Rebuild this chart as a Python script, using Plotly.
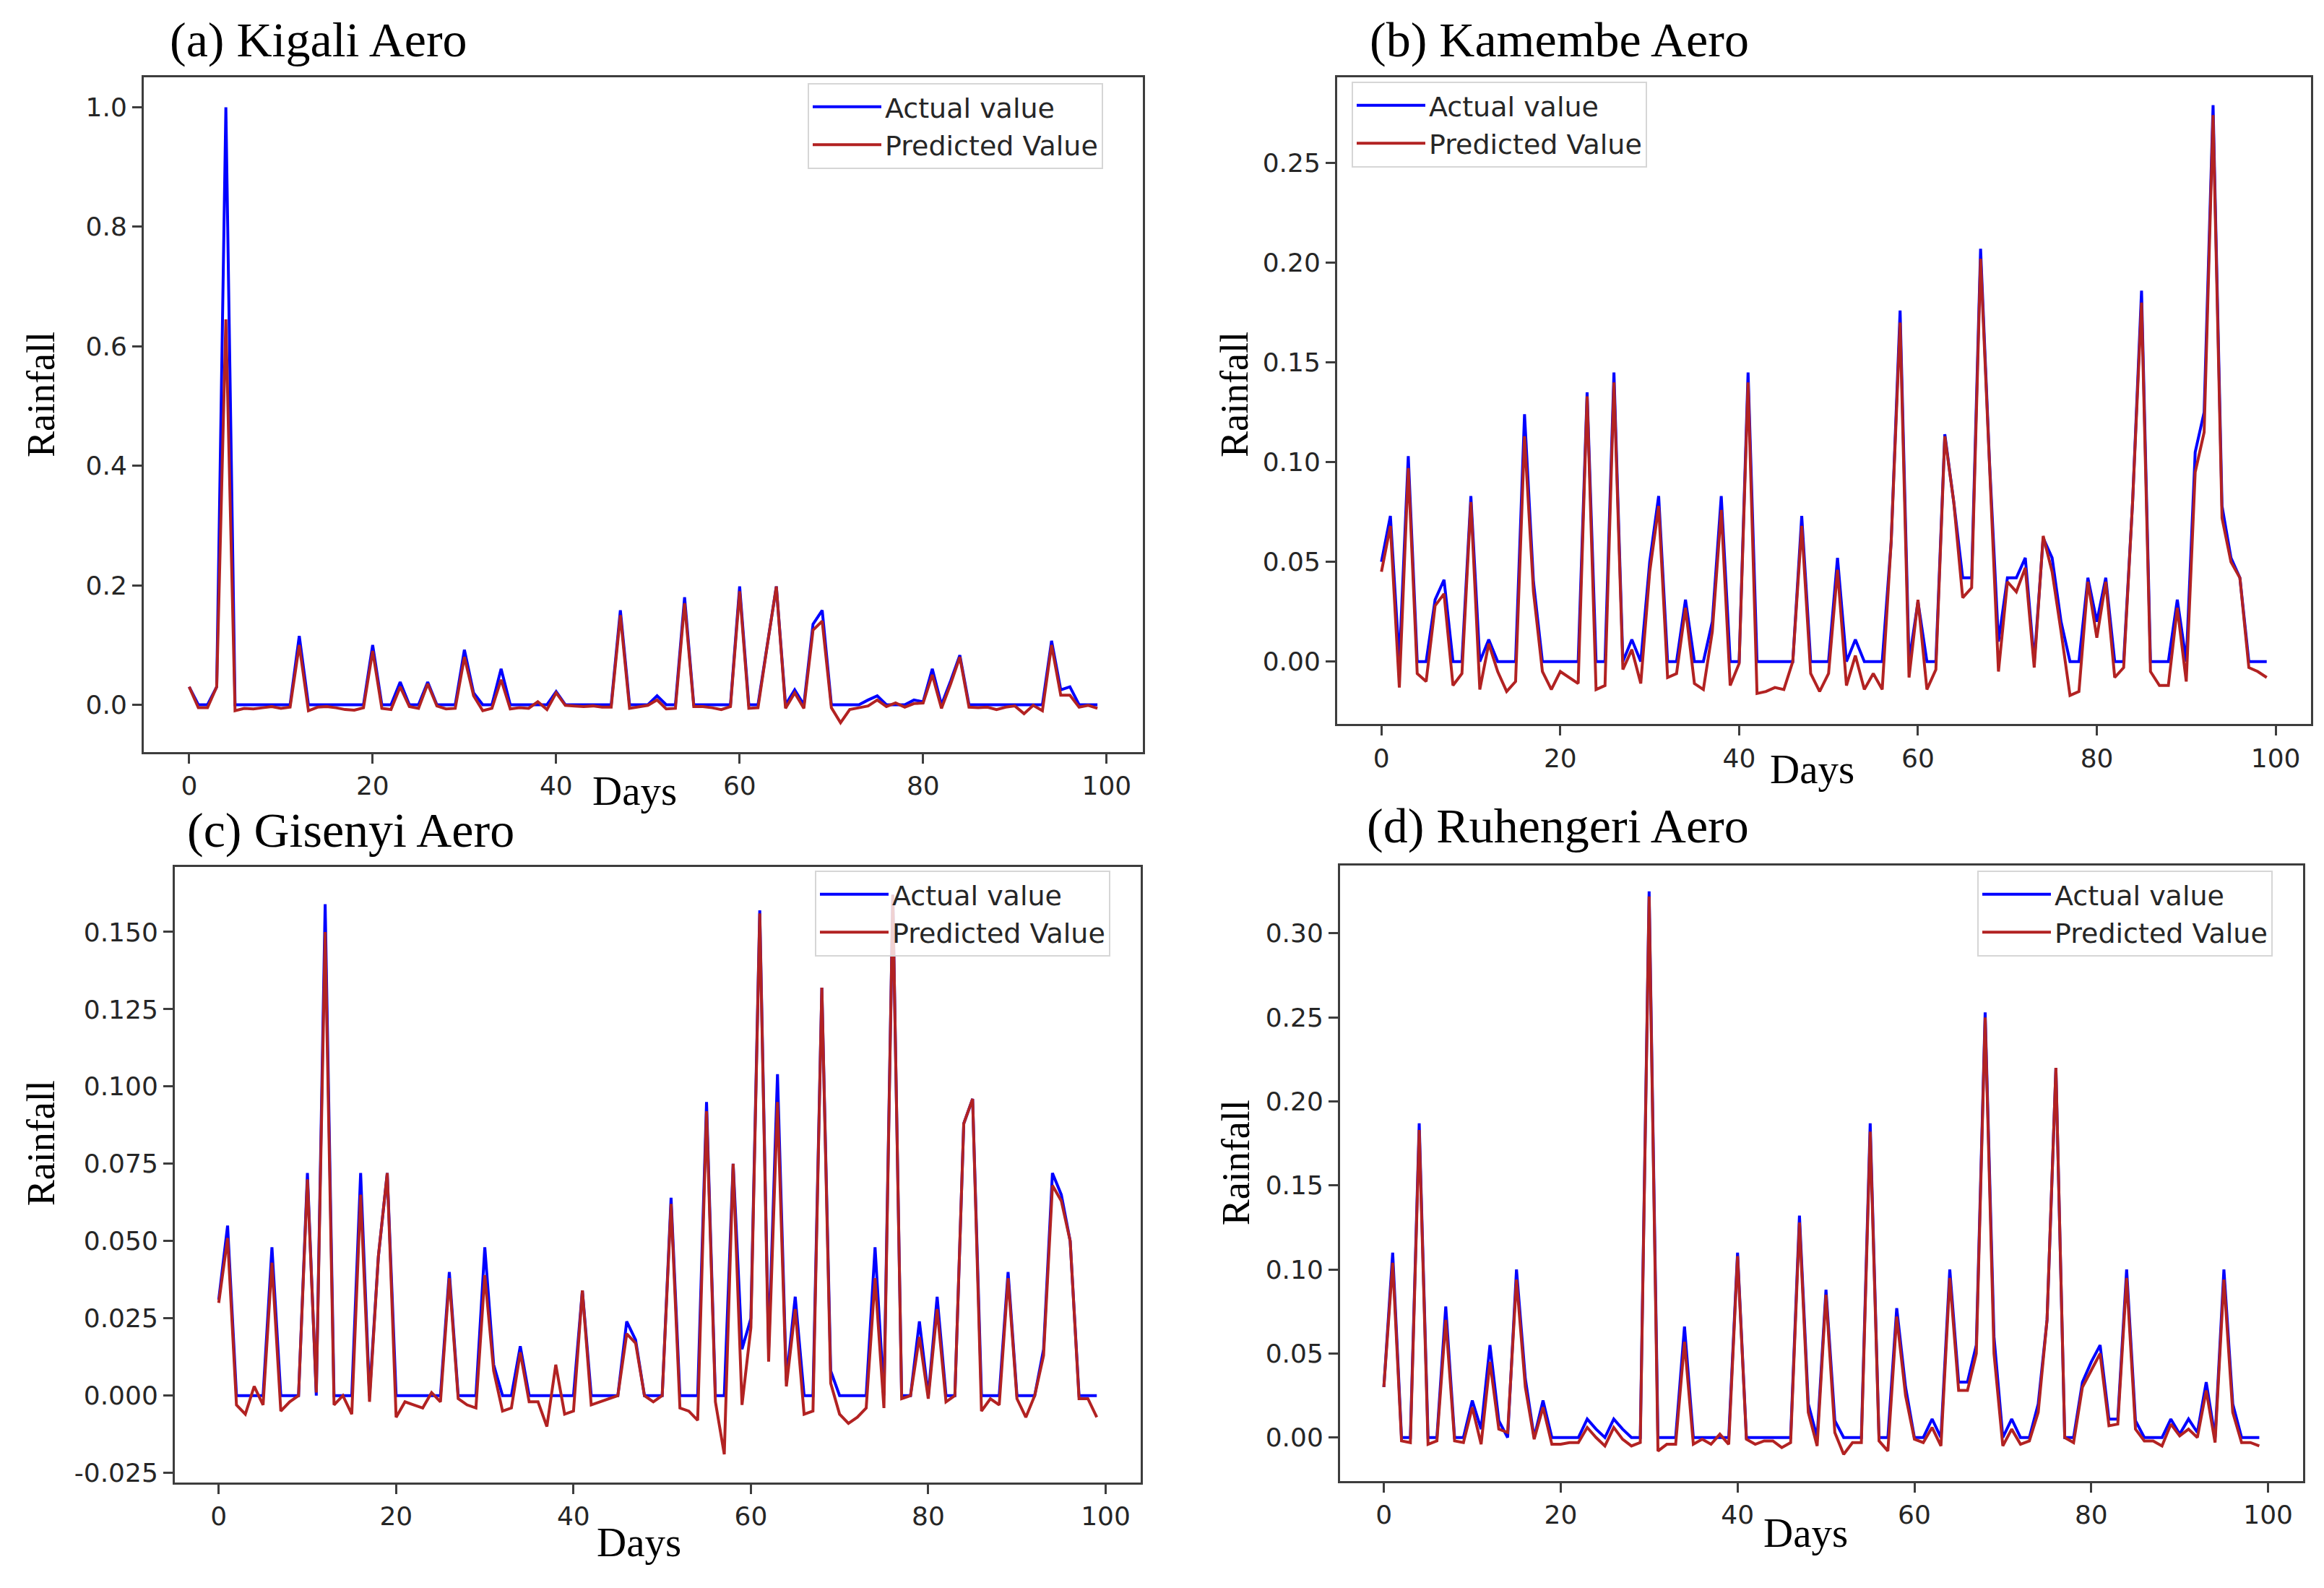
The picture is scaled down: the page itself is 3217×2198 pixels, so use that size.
import plotly.graph_objects as go

W, H = 3217, 2198

days = list(range(100))
x_ticks = [0, 20, 40, 60, 80, 100]

# (a) Kigali Aero
kigali_actual = [0.03, 0, 0, 0.03, 1.0, 0, 0, 0, 0, 0,
                 0, 0, 0.115, 0, 0, 0, 0, 0, 0, 0,
                 0.10, 0, 0, 0.038, 0, 0, 0.038, 0, 0, 0,
                 0.092, 0.02, 0, 0, 0.06, 0, 0, 0, 0, 0,
                 0.022, 0, 0, 0, 0, 0, 0, 0.158, 0, 0,
                 0, 0.015, 0, 0, 0.18, 0, 0, 0, 0, 0,
                 0.198, 0, 0, 0.1, 0.198, 0, 0.025, 0, 0.135, 0.158,
                 0, 0, 0, 0, 0.008, 0.015, 0, 0, 0, 0.008,
                 0.005, 0.06, 0, 0.04, 0.083, 0, 0, 0, 0, 0,
                 0, 0, 0, 0, 0.107, 0.025, 0.03, 0, 0, 0]
kigali_pred = [0.03, -0.005, -0.005, 0.03, 0.645, -0.01, -0.006, -0.007, -0.005, -0.003,
               -0.006, -0.004, 0.1, -0.01, -0.004, -0.003, -0.005, -0.008, -0.009, -0.005,
               0.09, -0.006, -0.008, 0.03, -0.003, -0.006, 0.035, -0.002, -0.007, -0.006,
               0.08, 0.015, -0.01, -0.006, 0.042, -0.007, -0.005, -0.006, 0.005, -0.008,
               0.02, -0.001, -0.002, -0.003, -0.002, -0.004, -0.004, 0.15, -0.006, -0.004,
               -0.001, 0.008, -0.007, -0.006, 0.17, -0.003, -0.003, -0.005, -0.008, -0.003,
               0.19, -0.006, -0.005, 0.098, 0.198, -0.006, 0.02, -0.006, 0.125, 0.14,
               -0.005, -0.03, -0.008, -0.005, -0.002, 0.008, -0.003, 0.003, -0.004, 0.002,
               0.003, 0.05, -0.006, 0.035, 0.08, -0.004, -0.005, -0.004, -0.008, -0.004,
               -0.002, -0.015, -0.001, -0.01, 0.1, 0.016, 0.016, -0.004, -0.001, -0.006]

# (b) Kamembe Aero
kamembe_actual = [0.05, 0.073, 0, 0.103, 0, 0, 0.031, 0.041, 0, 0,
                  0.083, 0, 0.011, 0, 0, 0, 0.124, 0.04, 0, 0,
                  0, 0, 0, 0.135, 0, 0, 0.145, 0, 0.011, 0,
                  0.05, 0.083, 0, 0, 0.031, 0, 0, 0.02, 0.083, 0,
                  0, 0.145, 0, 0, 0, 0, 0, 0.073, 0, 0,
                  0, 0.052, 0, 0.011, 0, 0, 0, 0.06, 0.176, 0,
                  0.03, 0, 0, 0.114, 0.08, 0.042, 0.042, 0.207, 0.1, 0.01,
                  0.042, 0.042, 0.052, 0, 0.062, 0.052, 0.02, 0, 0, 0.042,
                  0.02, 0.042, 0, 0, 0.08, 0.186, 0, 0, 0, 0.031,
                  0, 0.105, 0.125, 0.279, 0.078, 0.052, 0.042, 0, 0, 0]
kamembe_pred = [0.045, 0.068, -0.013, 0.097, -0.006, -0.01, 0.028, 0.034, -0.012, -0.006,
                0.08, -0.014, 0.009, -0.005, -0.015, -0.01, 0.113, 0.035, -0.005, -0.014,
                -0.005, -0.008, -0.011, 0.133, -0.014, -0.012, 0.14, -0.004, 0.006, -0.011,
                0.045, 0.078, -0.008, -0.006, 0.027, -0.011, -0.014, 0.015, 0.076, -0.012,
                -0.001, 0.14, -0.016, -0.015, -0.013, -0.014, 0.0, 0.068, -0.006, -0.015,
                -0.006, 0.046, -0.012, 0.003, -0.014, -0.006, -0.014, 0.06, 0.17, -0.008,
                0.031, -0.014, -0.004, 0.113, 0.08, 0.032, 0.037, 0.202, 0.1, -0.005,
                0.04, 0.035, 0.047, -0.003, 0.063, 0.045, 0.015, -0.017, -0.015, 0.04,
                0.012, 0.04, -0.008, -0.003, 0.08, 0.18, -0.005, -0.012, -0.012, 0.027,
                -0.01, 0.095, 0.115, 0.274, 0.072, 0.05, 0.042, -0.003, -0.005, -0.008]

# (c) Gisenyi Aero
gisenyi_actual = [0.031, 0.055, 0, 0, 0, 0, 0.048, 0, 0, 0,
                  0.072, 0, 0.159, 0, 0, 0, 0.072, 0, 0.045, 0.072,
                  0, 0, 0, 0, 0, 0, 0.04, 0, 0, 0,
                  0.048, 0.01, 0, 0, 0.016, 0, 0, 0, 0, 0,
                  0, 0.034, 0, 0, 0, 0, 0.024, 0.018, 0, 0,
                  0, 0.064, 0, 0, 0, 0.095, 0, 0, 0.075, 0.015,
                  0.025, 0.157, 0.015, 0.104, 0.005, 0.032, 0, 0, 0.132, 0.008,
                  0, 0, 0, 0, 0.048, 0, 0.162, 0, 0, 0.024,
                  0, 0.032, 0, 0, 0.088, 0.096, 0, 0, 0, 0.04,
                  0, 0, 0, 0.015, 0.072, 0.065, 0.05, 0, 0, 0]
gisenyi_pred = [0.03, 0.051, -0.003, -0.006, 0.003, -0.003, 0.043, -0.005, -0.002, 0.0,
                0.07, 0.001, 0.15, -0.003, 0.0, -0.006, 0.065, -0.002, 0.045, 0.072,
                -0.007, -0.002, -0.003, -0.004, 0.001, -0.002, 0.038, -0.001, -0.003, -0.004,
                0.039, 0.008, -0.005, -0.004, 0.014, -0.002, -0.002, -0.01, 0.01, -0.006,
                -0.005, 0.034, -0.003, -0.002, -0.001, 0.0, 0.02, 0.017, 0.0, -0.002,
                0.0, 0.062, -0.004, -0.005, -0.008, 0.092, -0.002, -0.019, 0.075, -0.003,
                0.022, 0.156, 0.011, 0.095, 0.003, 0.028, -0.006, -0.005, 0.132, 0.004,
                -0.006, -0.009, -0.007, -0.004, 0.038, -0.004, 0.162, -0.001, 0.0, 0.019,
                -0.001, 0.028, -0.002, 0.0, 0.088, 0.096, -0.005, -0.001, -0.003, 0.038,
                -0.001, -0.007, 0.0, 0.013, 0.068, 0.063, 0.05, -0.001, -0.001, -0.007]

# (d) Ruhengeri Aero
ruhengeri_actual = [0.03, 0.11, 0, 0, 0.187, 0, 0, 0.078, 0, 0,
                    0.022, 0.005, 0.055, 0.01, 0, 0.1, 0.035, 0, 0.022, 0,
                    0, 0, 0, 0.011, 0.005, 0, 0.011, 0.005, 0, 0,
                    0.325, 0, 0, 0, 0.066, 0, 0, 0, 0, 0,
                    0.11, 0, 0, 0, 0, 0, 0, 0.132, 0.02, 0,
                    0.088, 0.01, 0, 0, 0, 0.187, 0, 0, 0.077, 0.03,
                    0, 0, 0.011, 0, 0.1, 0.033, 0.033, 0.055, 0.253, 0.06,
                    0, 0.011, 0, 0, 0.02, 0.07, 0.22, 0, 0, 0.033,
                    0.045, 0.055, 0.011, 0.011, 0.1, 0.01, 0, 0, 0, 0.011,
                    0.002, 0.011, 0.003, 0.033, 0, 0.1, 0.02, 0, 0, 0]
ruhengeri_pred = [0.03, 0.104, -0.002, -0.003, 0.183, -0.004, -0.002, 0.07, -0.002, -0.003,
                  0.018, -0.004, 0.045, 0.005, 0.003, 0.094, 0.03, -0.001, 0.018, -0.004,
                  -0.004, -0.003, -0.003, 0.006, 0.0, -0.005, 0.006, -0.001, -0.005, -0.003,
                  0.322, -0.008, -0.004, -0.004, 0.057, -0.004, -0.001, -0.004, 0.002, -0.004,
                  0.108, -0.001, -0.004, -0.002, -0.002, -0.006, -0.003, 0.128, 0.015, -0.005,
                  0.085, 0.003, -0.01, -0.003, -0.003, 0.182, -0.002, -0.008, 0.072, 0.025,
                  -0.001, -0.003, 0.006, -0.005, 0.095, 0.028, 0.028, 0.05, 0.25, 0.05,
                  -0.005, 0.005, -0.004, -0.002, 0.015, 0.07, 0.22, 0.0, -0.003, 0.03,
                  0.04, 0.05, 0.007, 0.008, 0.095, 0.005, -0.002, -0.002, -0.005, 0.008,
                  0.001, 0.005, 0.0, 0.028, -0.003, 0.094, 0.015, -0.003, -0.003, -0.005]

titles = ["(a) Kigali Aero", "(b) Kamembe Aero", "(c) Gisenyi Aero", "(d) Ruhengeri Aero"]
actual_series = [kigali_actual, kamembe_actual, gisenyi_actual, ruhengeri_actual]
pred_series = [kigali_pred, kamembe_pred, gisenyi_pred, ruhengeri_pred]

y_tickvals = [
    [0.0, 0.2, 0.4, 0.6, 0.8, 1.0],
    [0.0, 0.05, 0.10, 0.15, 0.20, 0.25],
    [-0.025, 0.0, 0.025, 0.05, 0.075, 0.10, 0.125, 0.15],
    [0.0, 0.05, 0.10, 0.15, 0.20, 0.25, 0.30],
]
y_ticktext = [
    ["0.0", "0.2", "0.4", "0.6", "0.8", "1.0"],
    ["0.00", "0.05", "0.10", "0.15", "0.20", "0.25"],
    ["-0.025", "0.000", "0.025", "0.050", "0.075", "0.100", "0.125", "0.150"],
    ["0.00", "0.05", "0.10", "0.15", "0.20", "0.25", "0.30"],
]
y_ranges = [[-0.0795, 1.0506], [-0.0314, 0.2931], [-0.028, 0.1711], [-0.0257, 0.3405]]

# axes boxes in pixels: left, right, top, bottom
boxes = [(191, 1574, 99, 1037), (1843, 3191, 99, 998),
         (234, 1571, 1196, 2051), (1847, 3180, 1194, 2049)]
legend_pos = [(1110, 107), (1863, 105), (1120, 1201), (2729, 1201)]
title_pos = [(225, 47), (1886, 47), (249, 1145), (1882, 1139)]
ylabel_pos = [(49, 540), (1701, 540), (49, 1580), (1703, 1607)]
xlabel_pos = [(870, 1090), (2500, 1060), (876, 2134), (2491, 2121)]

BLUE = "#0000ff"
RED = "#b22222"
SPINE = "#3d3d3d"
TICKFONT = dict(family="DejaVu Sans", size=36, color="#262626")
SERIF = "Liberation Serif"

def px_x(p):
    return p / W

def px_y(p):
    return 1 - p / H

fig = go.Figure()
layout = dict(width=W, height=H, margin=dict(l=0, r=0, t=0, b=0),
              paper_bgcolor="white", plot_bgcolor="white", showlegend=True)
annotations = []

for i in range(4):
    n = "" if i == 0 else str(i + 1)
    leg = "legend" if i == 0 else "legend" + str(i + 1)
    fig.add_trace(go.Scatter(x=days, y=actual_series[i], mode="lines", name="Actual value",
                             line=dict(color=BLUE, width=4), xaxis="x" + n, yaxis="y" + n,
                             legend=leg))
    fig.add_trace(go.Scatter(x=days, y=pred_series[i], mode="lines", name="Predicted Value",
                             line=dict(color=RED, width=4), xaxis="x" + n, yaxis="y" + n,
                             legend=leg))
    l, r, t, b = boxes[i]
    axcommon = dict(showline=True, mirror=True, linecolor=SPINE, linewidth=3,
                    ticks="outside", ticklen=13, tickwidth=3, tickcolor=SPINE,
                    tickfont=TICKFONT, showgrid=False, zeroline=False)
    layout["xaxis" + n] = dict(domain=[px_x(l), px_x(r)], anchor="y" + n,
                               range=[-4.95, 103.95], tickmode="array", tickvals=x_ticks,
                               ticktext=[str(v) for v in x_ticks], **axcommon)
    layout["yaxis" + n] = dict(domain=[px_y(b), px_y(t)], anchor="x" + n,
                               range=y_ranges[i], tickmode="array", tickvals=y_tickvals[i],
                               ticktext=y_ticktext[i], **axcommon)
    lx, ly = legend_pos[i]
    layout[leg] = dict(x=px_x(lx), y=px_y(ly), xanchor="left", yanchor="top",
                       xref="paper", yref="paper",
                       bgcolor="rgba(255,255,255,0.8)", bordercolor="#d6d6d6", borderwidth=2,
                       font=dict(family="DejaVu Sans", size=38, color="#262626"),
                       itemwidth=95, tracegroupgap=0)
    tx, ty = title_pos[i]
    annotations.append(dict(text=titles[i], x=px_x(tx), y=px_y(ty), xref="paper", yref="paper",
                            xanchor="left", yanchor="middle", showarrow=False,
                            font=dict(family=SERIF, size=68, color="black")))
    rx, ry = ylabel_pos[i]
    annotations.append(dict(text="Rainfall", x=px_x(rx), y=px_y(ry), xref="paper", yref="paper",
                            xanchor="center", yanchor="middle", showarrow=False, textangle=-90,
                            font=dict(family=SERIF, size=54, color="black")))
    dx, dy = xlabel_pos[i]
    annotations.append(dict(text="Days", x=px_x(dx), y=px_y(dy), xref="paper", yref="paper",
                            xanchor="center", yanchor="middle", showarrow=False,
                            font=dict(family=SERIF, size=57, color="black")))

layout["annotations"] = annotations
fig.update_layout(**layout)
fig.write_html("out.html")
